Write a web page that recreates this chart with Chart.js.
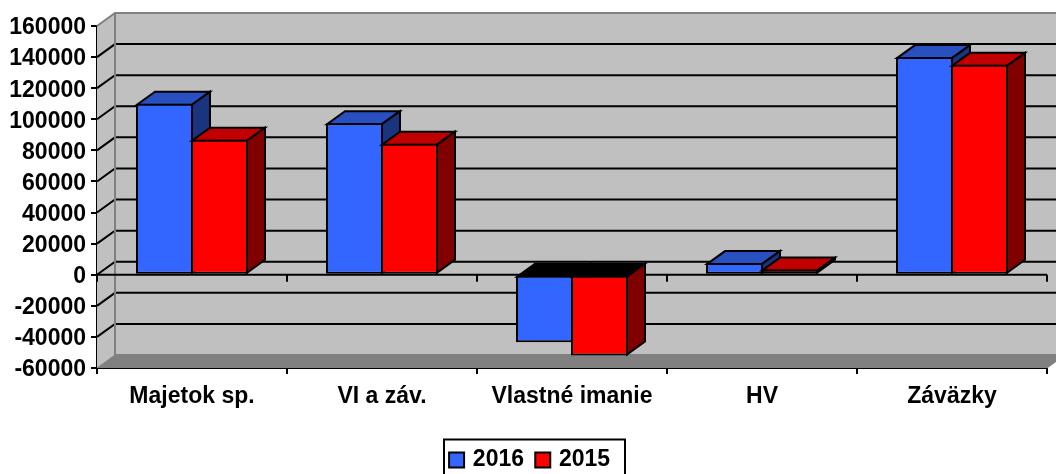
<!DOCTYPE html>
<html>
<head>
<meta charset="utf-8">
<title>Chart</title>
<script src="https://cdn.jsdelivr.net/npm/chart.js@4"></script>
<style>
    html, body { margin: 0; padding: 0; background: #fff; overflow: hidden; }
    canvas { display: block; }
</style>
</head>
<body>
<canvas id="BarChart" width="1056" height="474"></canvas>
<script>
    const categories = ['Majetok sp.', 'VI a záv.', 'Vlastné imanie', 'HV', 'Záväzky'];
    const values2016 = [110000, 97500, -43500, 7500, 140000];
    const values2015 = [86800, 84300, -52000, 3300, 135000];
    const axisMin = -60000;
    const axisMax = 160000;
    const axisStep = 20000;

    // how far the back wall sits from the front of the chart
    const depthX = 18;
    const depthY = -13;

    const fontFamily = '"Liberation Sans", Arial, sans-serif';

    var polygon = function (ctx, points, fill, stroke, lineWidth) {
        ctx.beginPath();
        points.forEach(function (p, i) {
            if (i === 0) ctx.moveTo(p[0], p[1]);
            else ctx.lineTo(p[0], p[1]);
        });
        if (fill) {
            ctx.closePath();
            ctx.fillStyle = fill;
            ctx.fill();
        }
        if (stroke) {
            ctx.strokeStyle = stroke;
            ctx.lineWidth = lineWidth;
            ctx.lineJoin = 'miter';
            ctx.stroke();
        }
    };

    var drawBars = function (chart, index) {
        const ctx = chart.ctx;
        const ds = chart.data.datasets[index];
        const meta = chart.getDatasetMeta(index);
        meta.data.forEach(function (bar, i) {
            const half = bar.width / 2 - 1;
            const l = bar.x - half;
            const r = bar.x + half;
            const t = Math.min(bar.y, bar.base) + 1;
            const b = Math.max(bar.y, bar.base) - 1;
            const topColor = ds.data[i] < 0 ? '#000' : ds.topColor;
            polygon(ctx, [[l, t], [r, t], [r + depthX, t + depthY], [l + depthX, t + depthY]], topColor, '#000', 2);
            polygon(ctx, [[r, t], [r + depthX, t + depthY], [r + depthX, b + depthY], [r, b]], ds.sideColor, '#000', 2);
            bar.draw(ctx);
        });
    };

    const wallsPlugin = {
        id: 'walls',
        afterLayout: function (chart) {
            // the legend sits a little right of the page centre
            chart.legend.left += 3.5;
            chart.legend.right += 3.5;
        },
        // side walls, floor and the gridlines running round them
        beforeDatasetsDraw: function (chart) {
            const ctx = chart.ctx;
            const x = chart.scales.x;
            const y = chart.scales.y;
            const left = x.left, right = x.right, top = y.top, bottom = y.bottom;

            ctx.save();
            polygon(ctx, [[left + depthX, top + depthY], [right + depthX, top + depthY], [right + depthX, bottom + depthY], [left + depthX, bottom + depthY]], '#c0c0c0');
            polygon(ctx, [[left, top], [left + depthX, top + depthY], [left + depthX, bottom + depthY], [left, bottom]], '#c0c0c0');
            polygon(ctx, [[left, bottom], [left + depthX, bottom + depthY], [right + depthX, bottom + depthY], [right, bottom]], '#808080');

            y.ticks.forEach(function (tick) {
                const py = y.getPixelForValue(tick.value);
                if (tick.value === axisMin) return;
                const color = tick.value === axisMax ? '#808080' : '#000';
                polygon(ctx, [[left, py], [left + depthX, py + depthY], [right + depthX, py + depthY]], null, color, 2);
            });
            polygon(ctx, [[left + depthX, top + depthY], [left + depthX, bottom + depthY], [right + depthX, bottom + depthY]], null, '#808080', 2);
            polygon(ctx, [[left, bottom], [left + depthX, bottom + depthY]], null, '#808080', 1);

            // zero line with its own ticks
            const zero = y.getPixelForValue(0);
            polygon(ctx, [[left, zero], [right, zero]], null, '#000', 2);
            const step = x.width / categories.length;
            for (let i = 0; i <= categories.length; i++) {
                const px = left + i * step;
                polygon(ctx, [[px, zero], [px, zero + 7]], null, '#000', 2);
            }
            polygon(ctx, [[right, bottom], [right + depthX, bottom + depthY]], null, '#808080', 1);
            ctx.restore();
        },
        // the library paints the first dataset last, here 2015 has to end up in front
        beforeDatasetDraw: function () {
            return false;
        },
        afterDatasetsDraw: function (chart) {
            chart.ctx.save();
            drawBars(chart, 0);
            drawBars(chart, 1);
            chart.ctx.restore();
        },
        afterDraw: function (chart) {
            // frame round the legend, it runs off the bottom of the page
            const legend = chart.legend;
            const ctx = chart.ctx;
            const middle = (legend.left + legend.right) / 2;
            ctx.save();
            ctx.strokeStyle = '#000';
            ctx.lineWidth = 2;
            ctx.strokeRect(middle - 87, legend.top + 5, 181, 60);
            ctx.restore();
        }
    };

    const ctx = document.getElementById('BarChart').getContext('2d');
    const myChart = new Chart(ctx, {
        type: 'bar',
        data: {
            labels: categories,
            datasets: [
                {
                    label: '2016',
                    data: values2016,
                    backgroundColor: '#3366ff',
                    topColor: '#2850c0',
                    sideColor: '#1a3480'
                },
                {
                    label: '2015',
                    data: values2015,
                    backgroundColor: '#ff0000',
                    topColor: '#c00000',
                    sideColor: '#800000'
                }
            ]
        },
        options: {
            responsive: false,
            animation: false,
            layout: { padding: { left: 8, right: 9, top: 26, bottom: -7.5 } },
            datasets: {
                bar: {
                    categoryPercentage: 0.579,
                    barPercentage: 1.036,
                    borderColor: '#000',
                    borderWidth: 2,
                    borderSkipped: false
                }
            },
            scales: {
                x: {
                    afterFit: function (scale) { scale.height = 66.5; },
                    grid: { offset: true, drawOnChartArea: false, color: '#000', lineWidth: 2, tickLength: 6 },
                    border: { display: true, color: '#000', width: 2 },
                    ticks: {
                        color: '#000',
                        maxRotation: 0,
                        padding: 9,
                        font: { family: fontFamily, size: 23, weight: 'bold' }
                    }
                },
                y: {
                    min: axisMin,
                    max: axisMax,
                    afterFit: function (scale) { scale.width = 89; },
                    grid: { drawOnChartArea: false, color: '#000', lineWidth: 2, tickLength: 6 },
                    border: { display: true, color: '#000', width: 2 },
                    ticks: {
                        stepSize: axisStep,
                        color: '#000',
                        padding: 5,
                        labelOffset: 2,
                        font: { family: fontFamily, size: 23, weight: 'bold' },
                        callback: function (value) { return String(value); }
                    }
                }
            },
            plugins: {
                title: { display: false },
                tooltip: { enabled: false },
                legend: {
                    position: 'bottom',
                    labels: {
                        color: '#000',
                        usePointStyle: true,
                        pointStyle: 'rect',
                        boxWidth: 9.5,
                        boxHeight: 15,
                        padding: 14,
                        font: { family: fontFamily, size: 23, weight: 'bold' }
                    }
                }
            }
        },
        plugins: [wallsPlugin]
    });
</script>
</body>
</html>
